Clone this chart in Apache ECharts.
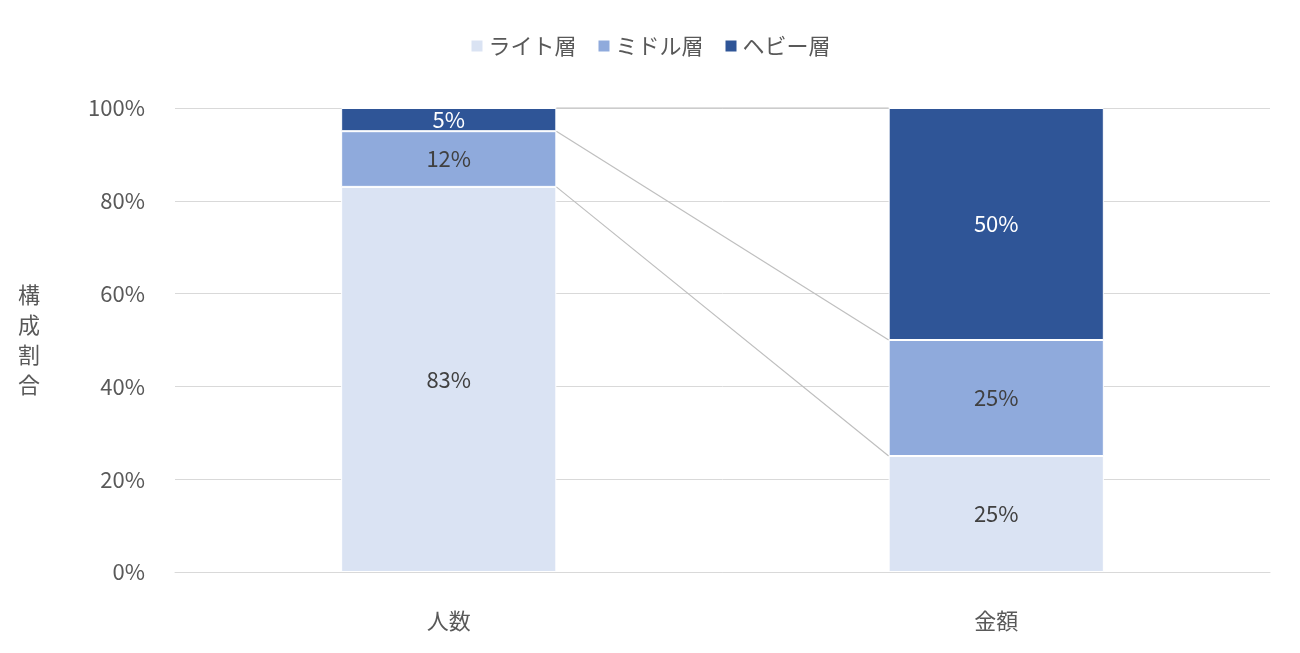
<!DOCTYPE html>
<html><head><meta charset="utf-8">
<script src="https://cdn.jsdelivr.net/npm/echarts@6/dist/echarts.min.js"></script>
<style>html,body{margin:0;padding:0;background:#fff}#c{width:1300px;height:653px}</style>
</head><body><div id="c"></div>
<script>
const categories = ['人数', '金額'];
const seriesNames = ['ライト層', 'ミドル層', 'ヘビー層'];
const light = [83, 25];
const middle = [12, 25];
const heavy = [5, 50];
const yTicks = [0, 20, 40, 60, 80, 100];

const colors = ['#dae3f3', '#8faadc', '#2f5597'];
const labelColors = ['#404040', '#404040', '#ffffff'];
const values = [light, middle, heavy];
const BW = 0.393;
// boundaries: cumulative tops
const bounds = [];
let c0 = 0, c1 = 0;
for (let i = 0; i < values.length; i++) { c0 += values[i][0]; c1 += values[i][1]; bounds.push([c0, c1]); }

const chart = echarts.init(document.getElementById('c'));
const font = '"Noto Sans CJK JP", "Noto Sans", sans-serif';
const series = values.map((v, i) => ({
  name: seriesNames[i], type: 'bar', stack: 'a', barWidth: (BW * 100) + '%',
  data: v, itemStyle: { color: colors[i], borderColor: '#fff', borderWidth: 1 },
  label: { show: true, position: 'inside', formatter: '{c}%', color: labelColors[i], fontSize: 22, fontFamily: font },
  z: 3
}));
series.push({
  type: 'custom', silent: true, z: 1,
  data: bounds,
  renderItem: function (params, api) {
    const a = api.value(0), b = api.value(1);
    const w = api.size([1, 0])[0] * BW / 2;
    const p0 = api.coord([0, a]), p1 = api.coord([1, b]);
    return { type: 'line', shape: { x1: p0[0] + w, y1: p0[1], x2: p1[0] - w, y2: p1[1] }, style: { stroke: '#bfbfbf', lineWidth: 1.2 } };
  },
  encode: { x: -1, y: -1 }
});
chart.setOption({
  animation: false,
  textStyle: { fontFamily: font },
  legend: { top: 30, left: 'center', itemWidth: 13, itemHeight: 13, itemGap: 20, icon: 'rect',
    data: seriesNames, textStyle: { fontSize: 22, color: '#595959', fontFamily: font } },
  grid: { left: 175, right: 30, top: 108, bottom: 81 },
  xAxis: { type: 'category', data: categories, axisTick: { show: false },
    axisLine: { lineStyle: { color: '#d9d9d9' } },
    axisLabel: { fontSize: 22, color: '#595959', margin: 38, fontFamily: font } },
  yAxis: { type: 'value', min: 0, max: 100, interval: 20,
    name: '構\n成\n割\n合', nameLocation: 'middle', nameGap: 135, nameRotate: 0,
    nameTextStyle: { fontSize: 22, color: '#595959', lineHeight: 30, fontFamily: font },
    axisLabel: { formatter: v => yTicks.includes(v) ? v + '%' : '', fontSize: 22, color: '#595959', margin: 30, fontFamily: font },
    splitLine: { lineStyle: { color: '#d9d9d9' } } },
  series: series
});
</script></body></html>
